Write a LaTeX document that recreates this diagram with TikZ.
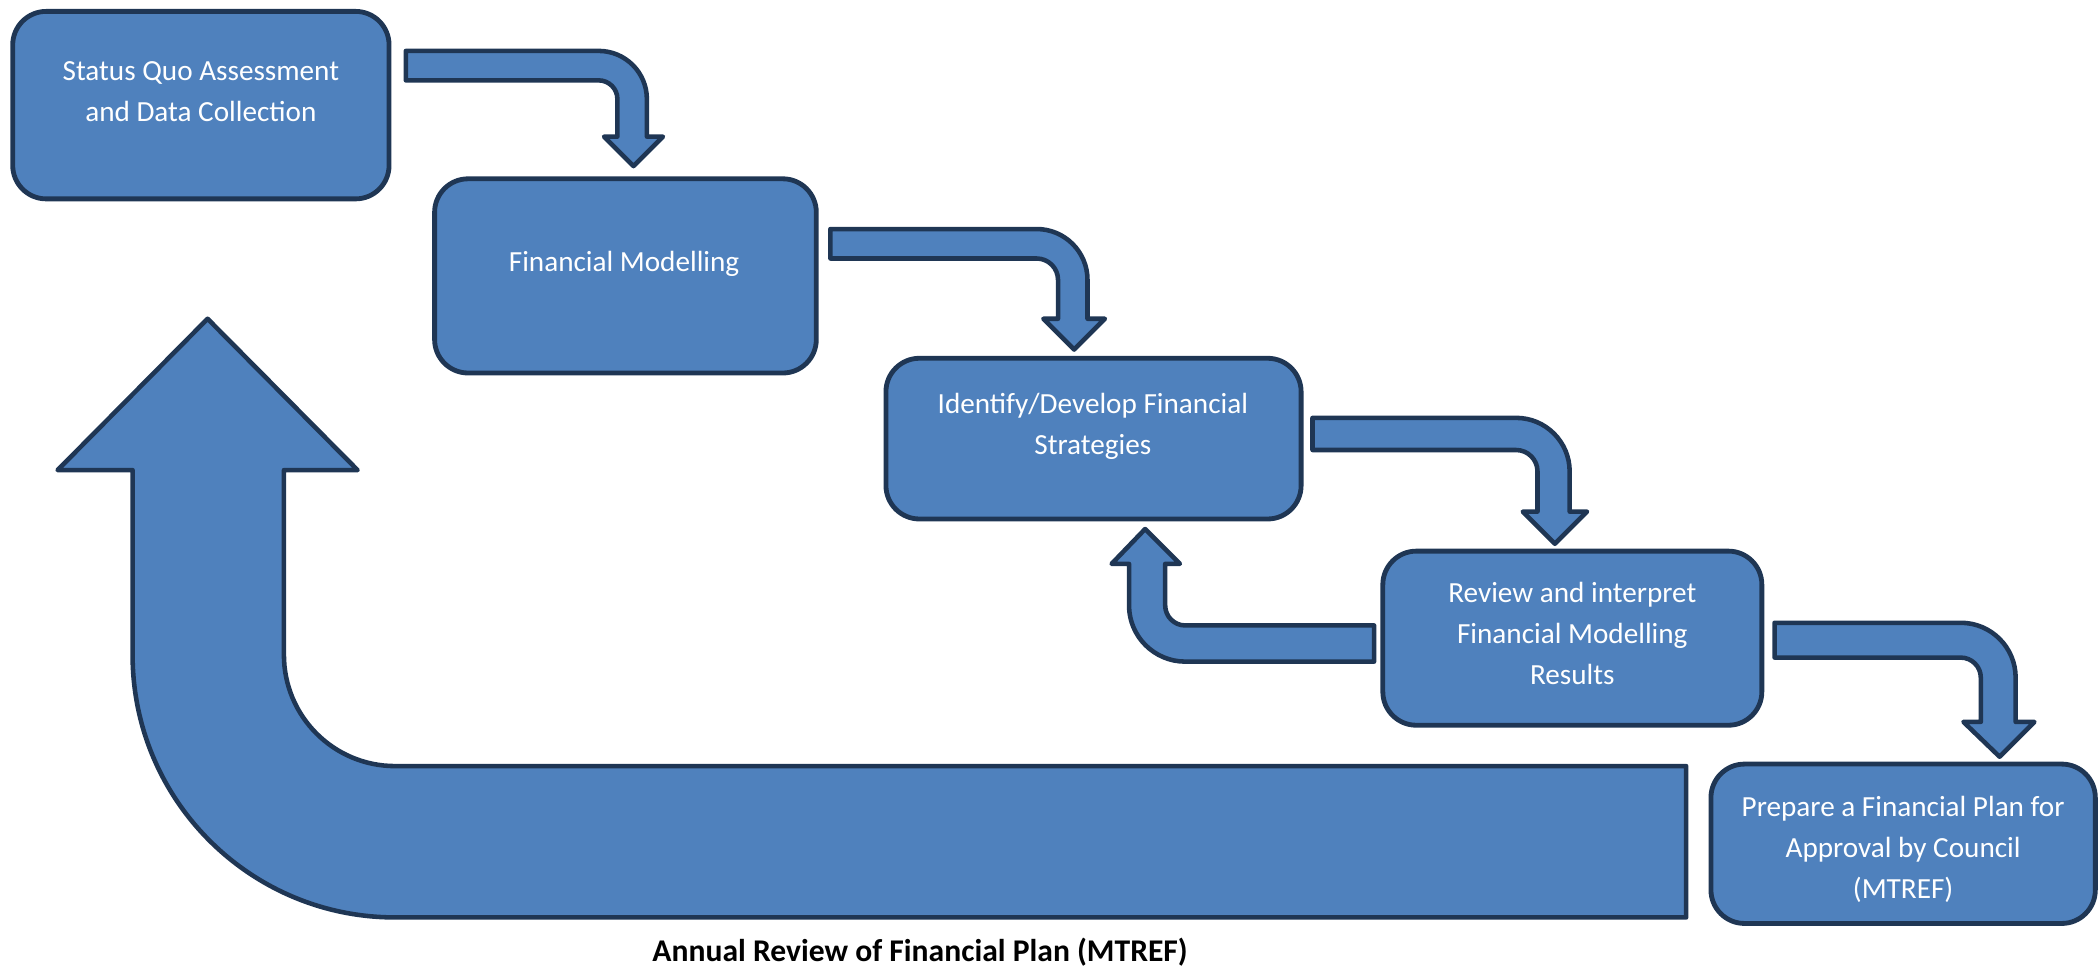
\documentclass[tikz,border=0pt]{standalone}
\usepackage{fontspec}
\setmainfont{Carlito}
\definecolor{boxfill}{HTML}{4F81BD}
\definecolor{boxline}{HTML}{1F3654}
\begin{document}
\begin{tikzpicture}[x=1pt,y=-1pt,
  stepbox/.style={draw=boxline, fill=boxfill, line width=3.6pt, rounded corners=25pt,
    inner sep=0pt, outer sep=0pt},
  blockarrow/.style={draw=boxline, fill=boxfill, line width=3.4pt, line join=round},
  boxtext/.style={text=white, align=center, inner sep=0pt,
    font=\fontsize{21.8}{30.5}\selectfont},
  captiontext/.style={text=black, inner sep=0pt, font=\fontsize{23.6}{28}\selectfont\bfseries}]
\useasboundingbox (0,0) rectangle (1568,724);

% boxes
\node[stepbox, minimum width=281pt, minimum height=140pt] (b1) at (150,78.5) {};
\node[stepbox, minimum width=285pt, minimum height=145pt] (b2) at (467,206) {};
\node[stepbox, minimum width=310pt, minimum height=120pt] (b3) at (816.5,327.5) {};
\node[stepbox, minimum width=283pt, minimum height=130pt] (b4) at (1174,476.5) {};
\node[stepbox, minimum width=287pt, minimum height=119pt] (b5) at (1421,630) {};

% texts
\node[boxtext] (t1) at (150,68.5) {Status Quo Assessment\\and Data Collection};
\node[boxtext] (t2) at (466,197) {Financial Modelling};
\node[boxtext] (t3) at (816,318.5) {Identify/Develop Financial\\Strategies};
\node[boxtext] (t4) at (1174,473) {Review and interpret\\Financial Modelling\\Results};
\node[boxtext] (t5) at (1421,634) {Prepare a Financial Plan for\\Approval by Council\\(MTREF)};
\node[captiontext] (cap) at (687,711) {Annual Review of Financial Plan (MTREF)};

% A1: b1 -> b2
\draw[blockarrow] (303,38) -- (447,38) arc[start angle=-90, end angle=0, radius=36]
  -- (483,102) -- (495,102) -- (473,124) -- (451,102) -- (461,102) -- (461,74)
  arc[start angle=0, end angle=-90, radius=14] -- (303,60) -- cycle;

% A2: b2 -> b3
\draw[blockarrow] (620,171) -- (774,171) arc[start angle=-90, end angle=0, radius=38]
  -- (812,238) -- (825,238) -- (802,261) -- (779,238) -- (790,238) -- (790,209)
  arc[start angle=0, end angle=-90, radius=16] -- (620,193) -- cycle;

% A3: b3 -> b4
\draw[blockarrow] (980,312) -- (1132,312) arc[start angle=-90, end angle=0, radius=40]
  -- (1172,382) -- (1185,382) -- (1161,406) -- (1137,382) -- (1148,382) -- (1148,352)
  arc[start angle=0, end angle=-90, radius=16] -- (980,336) -- cycle;

% A4: b4 -> b3 (back)
\draw[blockarrow] (1026,467) -- (885,467) arc[start angle=90, end angle=180, radius=15]
  -- (870,421) -- (881,421) -- (855,395) -- (830,421) -- (843,421) -- (843,452)
  arc[start angle=180, end angle=90, radius=42] -- (1026,494) -- cycle;

% A5: b4 -> b5
\draw[blockarrow] (1325,465) -- (1464,465) arc[start angle=-90, end angle=0, radius=41]
  -- (1505,539) -- (1519,539) -- (1493,565) -- (1466,539) -- (1479,539) -- (1479,506)
  arc[start angle=0, end angle=-90, radius=15] -- (1325,491) -- cycle;

% Big U arrow: annual review back to b1
\draw[blockarrow] (155,238) -- (267,351) -- (212,351) -- (212,489)
  arc[start angle=180, end angle=90, radius=83] -- (1259,572) -- (1259,685) -- (295,685)
  arc[start angle=90, end angle=180, radius=196] -- (99,351) -- (43,351) -- cycle;
\end{tikzpicture}
\end{document}
